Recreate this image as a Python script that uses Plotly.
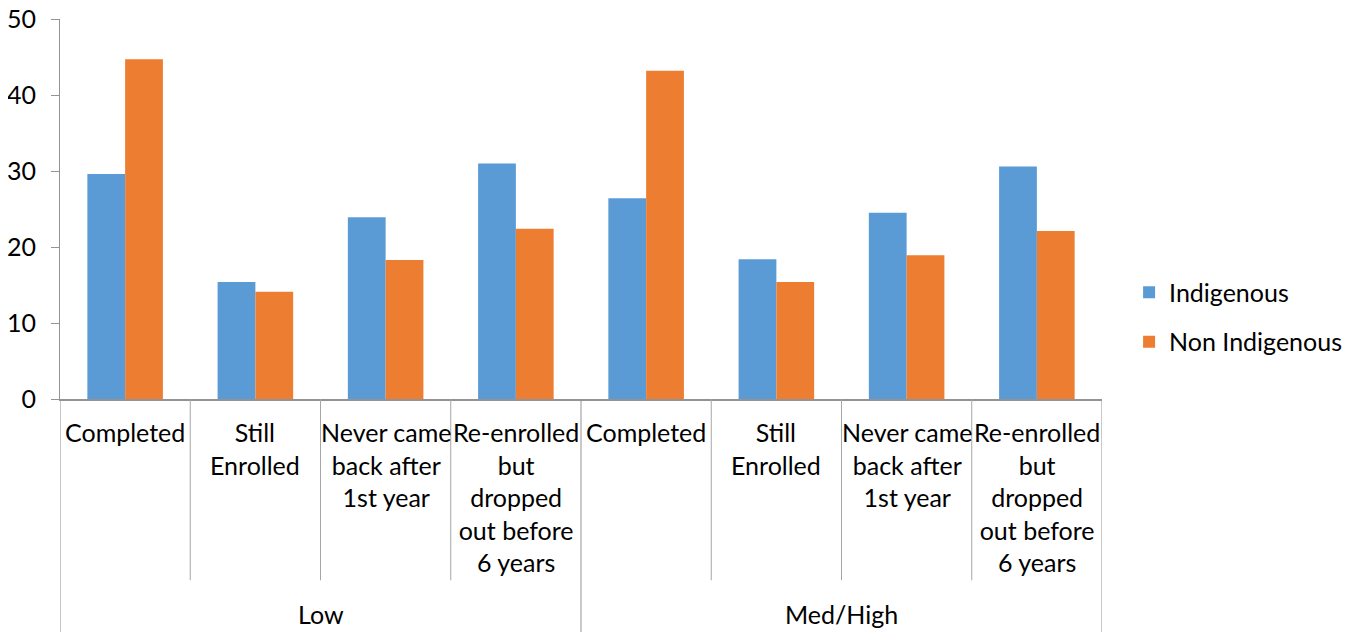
import plotly.graph_objects as go

# ---- data ----
groups = ["Low", "Med/High"]
categories = [
    "Completed",
    "Still<br>Enrolled",
    "Never came<br>back after<br>1st year",
    "Re-enrolled<br>but<br>dropped<br>out before<br>6 years",
]
indigenous = [29.6, 15.4, 23.9, 31.0, 26.4, 18.4, 24.5, 30.6]
non_indigenous = [44.7, 14.1, 18.3, 22.4, 43.2, 15.4, 18.9, 22.1]
series_names = ["Indigenous", "Non Indigenous"]
colors = ["#5B9BD5", "#ED7D31"]
y_ticks = [0, 10, 20, 30, 40, 50]

FONT = "Lato"
FS = 25
AXIS_COLOR = "#939393"
DIV_COLOR = "#a6a6a6"

n_cat = len(categories)
labels = categories * len(groups)
xpos = list(range(len(labels)))

fig = go.Figure()
for name, vals, col in zip(series_names, [indigenous, non_indigenous], colors):
    fig.add_trace(go.Bar(
        x=xpos, y=vals, name=name, legendgroup=name,
        marker=dict(color=col, line=dict(width=0)),
    ))

# category labels
for i, lab in enumerate(labels):
    fig.add_annotation(
        x=i, y=0, xref="x", yref="paper", text=lab, showarrow=False,
        xanchor="center", yanchor="top", yshift=-16,
        font=dict(family=FONT, size=FS, color="#000000"),
    )
# group labels
for g, gname in enumerate(groups):
    fig.add_annotation(
        x=g * n_cat + (n_cat - 1) / 2, y=-0.566, xref="x", yref="paper",
        text=gname, showarrow=False, xanchor="center", yanchor="middle",
        font=dict(family=FONT, size=FS, color="#000000"),
    )

# divider lines
total = len(labels)
for k in range(total + 1):
    b = k - 0.5
    is_group = (k % n_cat == 0)
    fig.add_shape(
        type="line", xref="x", yref="paper", x0=b, x1=b, y0=0,
        y1=-0.65 if is_group else -0.477,
        line=dict(color=AXIS_COLOR if is_group else DIV_COLOR, width=1),
    )

fig.update_layout(
    width=1347, height=624,
    margin=dict(l=52, r=253, t=11, b=233, autoexpand=False),
    paper_bgcolor="white", plot_bgcolor="white",
    bargap=0.42, bargroupgap=0,
    font=dict(family=FONT, size=FS, color="#000000"),
    showlegend=True,
    legend=dict(
        x=1.026, y=0.216, xanchor="left", yanchor="middle",
        traceorder="grouped", tracegroupgap=14,
        font=dict(family=FONT, size=FS, color="#000000"),
        bgcolor="rgba(0,0,0,0)",
    ),
    xaxis=dict(
        range=[-0.5, total - 0.5], showticklabels=False, showgrid=False,
        zeroline=False, showline=True, linecolor=AXIS_COLOR, linewidth=1.5,
        ticks="", automargin=False,
    ),
    yaxis=dict(
        range=[0, 50], tickvals=y_ticks, showgrid=False, zeroline=False,
        showline=True, linecolor=AXIS_COLOR, linewidth=1,
        ticks="outside", ticklen=8, tickcolor=AXIS_COLOR, tickwidth=1,
        tickfont=dict(family=FONT, size=FS, color="#000000"),
        ticklabelstandoff=10, automargin=False, ticklabeloverflow="allow",
    ),
)

fig.write_html("out.html")
